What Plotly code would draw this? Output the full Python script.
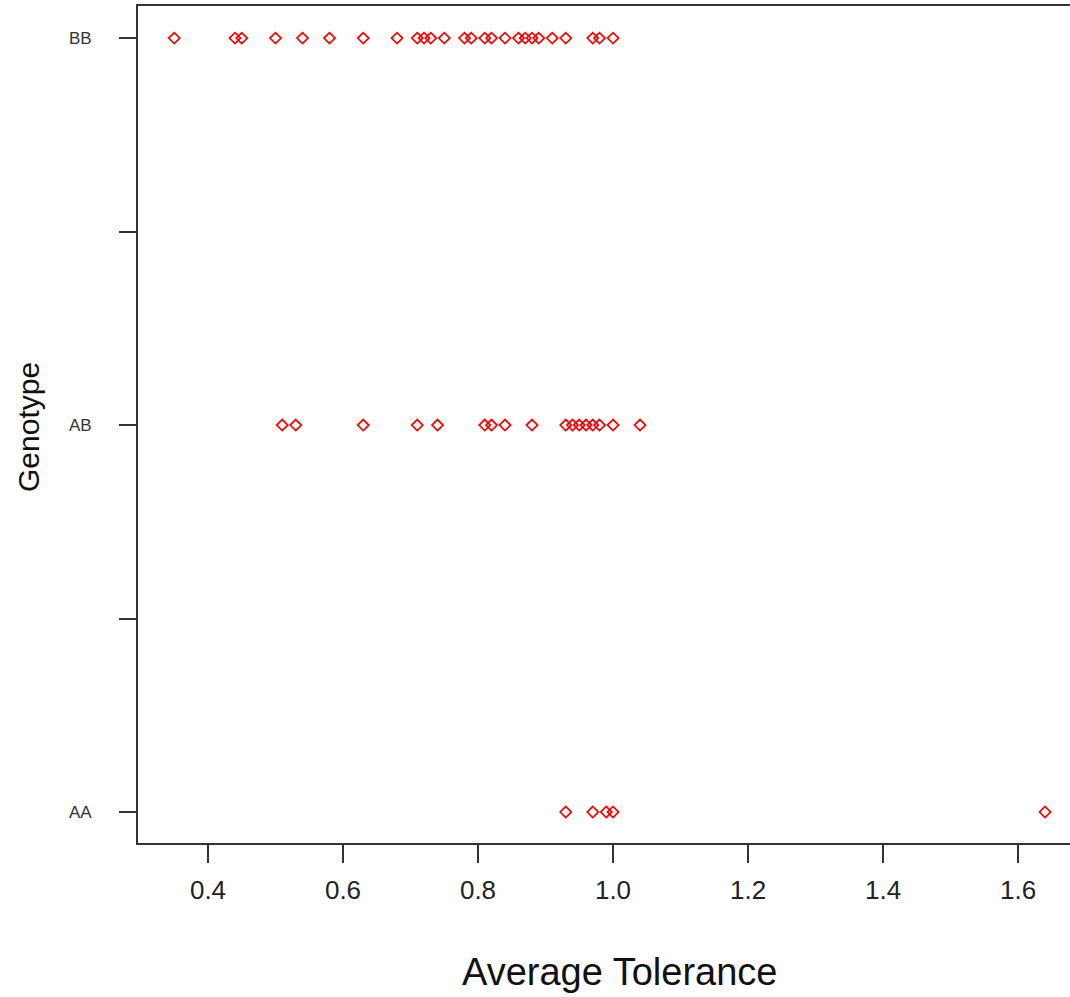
import plotly.graph_objects as go

# Data
genotype_labels = ["AA", "AB", "BB"]
bb_values = [0.35, 0.44, 0.45, 0.50, 0.54, 0.58, 0.63, 0.68, 0.71, 0.72, 0.73, 0.75,
             0.78, 0.79, 0.81, 0.82, 0.84, 0.86, 0.87, 0.88, 0.89, 0.91, 0.93, 0.97,
             0.98, 1.00]
ab_values = [0.51, 0.53, 0.63, 0.71, 0.74, 0.81, 0.82, 0.84, 0.88, 0.93, 0.94, 0.95,
             0.96, 0.97, 0.98, 1.00, 1.04]
aa_values = [0.93, 0.97, 0.99, 1.00, 1.64]

y_tickvals = [1, 1.5, 2, 2.5, 3]
y_ticktext = ["AA", "", "AB", "", "BB"]
x_tickvals = [0.4, 0.6, 0.8, 1.0, 1.2, 1.4, 1.6]
x_ticktext = ["0.4", "0.6", "0.8", "1.0", "1.2", "1.4", "1.6"]

groups = [(aa_values, 1), (ab_values, 2), (bb_values, 3)]
xs, ys = [], []
for vals, code in groups:
    xs += vals
    ys += [code] * len(vals)

fig = go.Figure()
fig.add_trace(go.Scatter(
    x=xs, y=ys, mode="markers",
    marker=dict(symbol="diamond-open", size=8.5, color="#FF0000",
                line=dict(width=1.7, color="#FF0000")),
    hoverinfo="x+y", showlegend=False,
))

font_family = "Liberation Sans, Arial, sans-serif"
fig.update_layout(
    width=1070, height=997,
    margin=dict(l=138, r=0, t=6, b=154),
    paper_bgcolor="white", plot_bgcolor="white",
    font=dict(family=font_family, color="#222222"),
    xaxis=dict(
        range=[0.2963, 1.677],
        tickvals=x_tickvals, ticktext=x_ticktext,
        ticks="outside", ticklen=18, tickwidth=2, tickcolor="#333333",
        tickfont=dict(size=26, color="#222222", family=font_family),
        ticklabelstandoff=5,
        showline=True, linecolor="#333333", linewidth=2, mirror=True,
        showgrid=False, zeroline=False,
    ),
    yaxis=dict(
        range=[0.92, 3.083],
        tickvals=y_tickvals, ticktext=y_ticktext,
        ticks="outside", ticklen=17, tickwidth=2, tickcolor="#333333",
        tickfont=dict(size=17, color="#333333", family=font_family),
        ticklabelstandoff=24,
        showline=True, linecolor="#333333", linewidth=2, mirror=False,
        showgrid=False, zeroline=False,
    ),
    annotations=[
        dict(text="Average Tolerance", xref="paper", yref="paper",
             x=(620 - 138) / (1070 - 138), y=-(972 - 843) / (843 - 6),
             xanchor="center", yanchor="middle", showarrow=False,
             font=dict(size=38, color="#111111", family=font_family)),
        dict(text="Genotype", xref="paper", yref="paper",
             x=-(138 - 28) / (1070 - 138), y=(843 - 427) / (843 - 6),
             xanchor="center", yanchor="middle", showarrow=False, textangle=-90,
             font=dict(size=30, color="#111111", family=font_family)),
    ],
)

fig.write_html("out.html")
